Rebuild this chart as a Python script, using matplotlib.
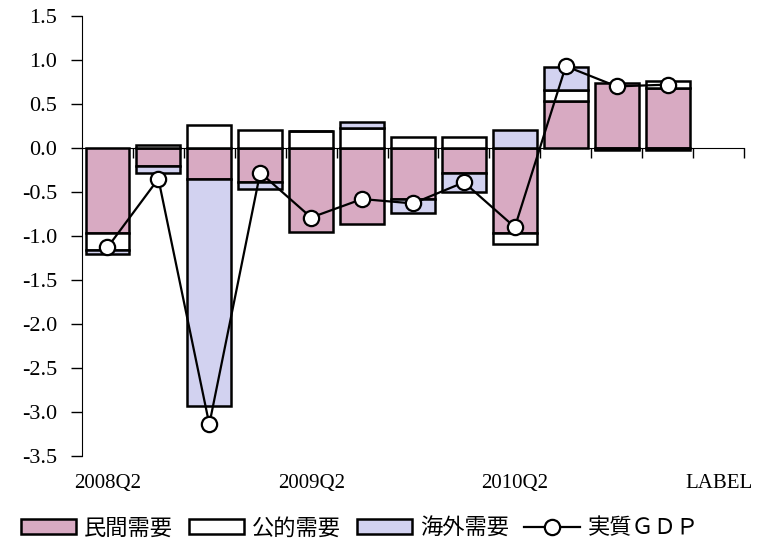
import matplotlib
matplotlib.use('Agg')
import matplotlib.pyplot as plt
import numpy as np
from matplotlib.transforms import blended_transform_factory

plt.rcParams['font.family'] = ['Noto Sans CJK JP', 'DejaVu Sans']

# quarters (last slot is left empty)
tick_labels = ['2008Q2', '', '', '', '2009Q2', '', '', '', '2010Q2', '', '', '', 'LABEL']

# contributions by component
private = [-0.97, -0.21, -0.35, -0.39, -0.96, -0.86, -0.58, -0.28, -0.97, 0.53, 0.74, 0.68]
public = [-0.19, 0.03, 0.26, 0.21, 0.19, 0.23, 0.12, 0.12, -0.12, 0.13, -0.01, 0.08]
overseas = [-0.05, -0.07, -2.58, -0.08, 0.00, 0.06, -0.16, -0.22, 0.21, 0.26, -0.01, -0.02]
gdp = [-1.13, -0.35, -3.14, -0.28, -0.79, -0.58, -0.63, -0.39, -0.90, 0.93, 0.70, 0.72]

series = [('民間需要', private, '#d8aac2'),
          ('公的需要', public, '#ffffff'),
          ('海外需要', overseas, '#d2d2f0')]

fig = plt.figure(figsize=(7.61, 5.43), dpi=100)
ax = fig.add_axes([82/761, 1-456/543, (744-82)/761, (456-16)/543])

x = np.arange(len(private))
pos_base = np.zeros(len(x))
neg_base = np.zeros(len(x))
handles = []
for name, vals, col in series:
    v = np.array(vals)
    bottom = np.where(v >= 0, pos_base, neg_base)
    b = ax.bar(x, v, width=0.86, bottom=bottom, color=col, edgecolor='black',
               linewidth=1.8, label=name, zorder=2)
    handles.append(b)
    pos_base = pos_base + np.where(v >= 0, v, 0)
    neg_base = neg_base + np.where(v < 0, v, 0)

ln, = ax.plot(x, gdp, color='black', lw=1.6, marker='o', markersize=11,
              markerfacecolor='white', markeredgecolor='black', markeredgewidth=1.6,
              label='実質ＧＤＰ', zorder=3)
handles.append(ln)

ax.set_xlim(-0.5, len(tick_labels) - 0.5)
ax.set_ylim(-3.5, 1.5)

# y axis
yt = np.arange(-3.5, 1.51, 0.5)
ax.set_yticks(yt)
ax.set_yticklabels(['%.1f' % v for v in yt], family='Liberation Serif', fontsize=16)
ax.tick_params(axis='y', direction='out', length=8, width=1, pad=10)

# x axis sits on zero, ticks between quarters
for s in ['top', 'right']:
    ax.spines[s].set_visible(False)
ax.spines['bottom'].set_position(('data', 0))
ax.spines['bottom'].set_zorder(4)
ax.set_xticks(np.arange(len(tick_labels)) + 0.5)
ax.set_xticklabels([])
ax.tick_params(axis='x', direction='out', length=7, width=1)

trans = blended_transform_factory(ax.transData, ax.transAxes)
for i, lab in enumerate(tick_labels):
    if lab:
        ax.text(i, -0.062, lab, transform=trans, ha='center', va='center',
                family='Liberation Serif', fontsize=15)

fig.legend(handles=handles, labels=[h.get_label() for h in handles],
           loc='center', bbox_to_anchor=(0.473, 1-528/543), ncol=4, frameon=False,
           fontsize=16, handlelength=2.5, handleheight=0.65, handletextpad=0.35,
           columnspacing=0.7, borderpad=0)

fig.savefig('out.png', dpi=100)
